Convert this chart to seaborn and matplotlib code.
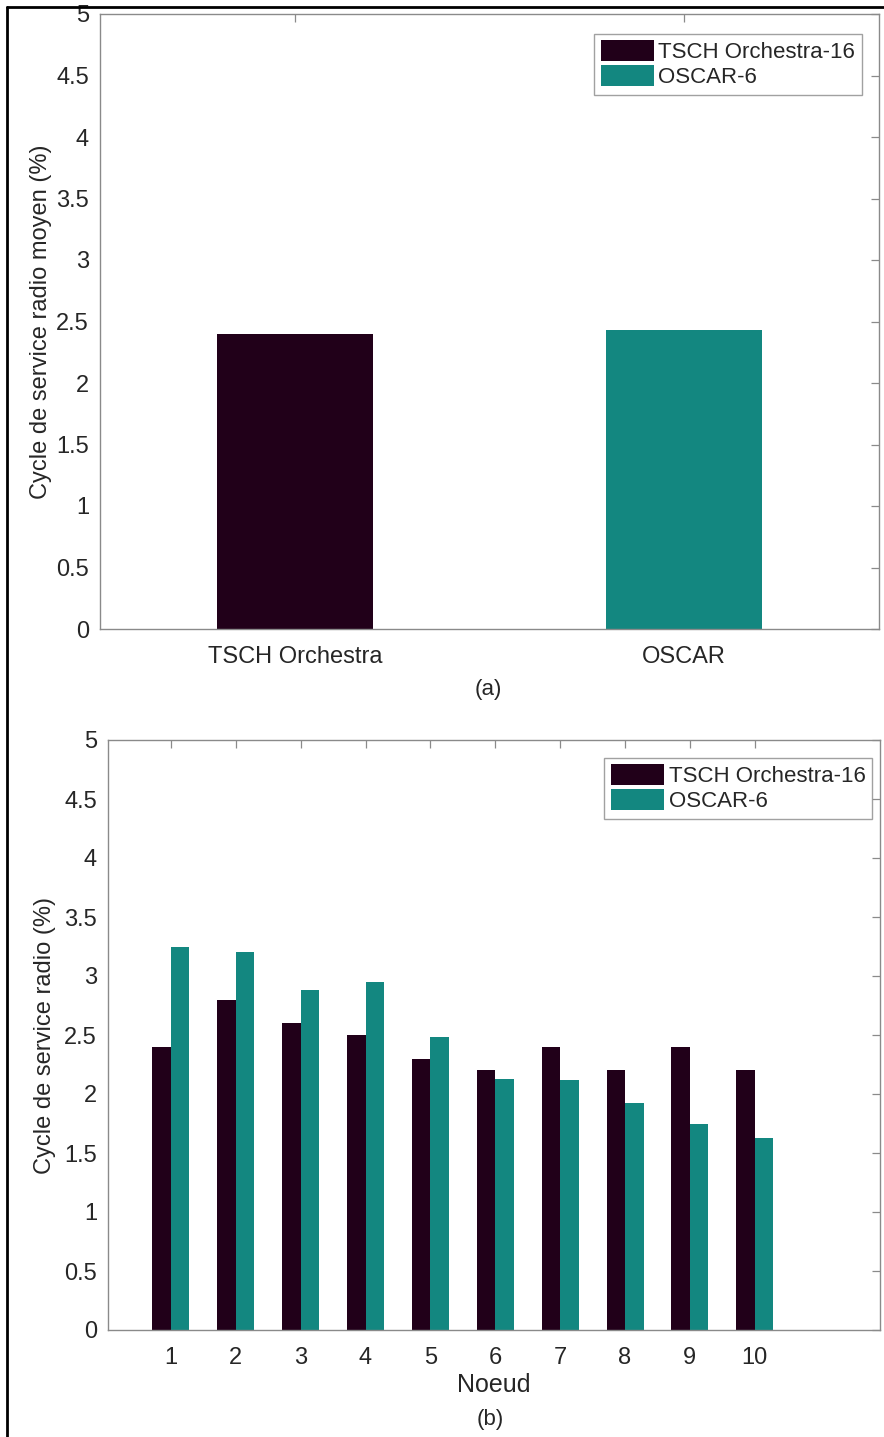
import numpy as np
import pandas as pd
import matplotlib
matplotlib.use("Agg")
import matplotlib.pyplot as plt
from matplotlib.patches import Patch
from matplotlib.lines import Line2D
import seaborn as sns

# Average radio duty cycle per protocol
protocols = ["TSCH Orchestra", "OSCAR"]
avg_duty = [2.40, 2.43]

# Per-node radio duty cycle
nodes = [1, 2, 3, 4, 5, 6, 7, 8, 9, 10]
orchestra_duty = [2.40, 2.80, 2.60, 2.50, 2.30, 2.20, 2.40, 2.20, 2.40, 2.20]
oscar_duty = [3.25, 3.20, 2.88, 2.95, 2.48, 2.13, 2.12, 1.92, 1.75, 1.63]

series_labels = ["TSCH Orchestra-16", "OSCAR-6"]
y_ticks = [0, 0.5, 1, 1.5, 2, 2.5, 3, 3.5, 4, 4.5, 5]
y_ticklabels = ["0", "0.5", "1", "1.5", "2", "2.5", "3", "3.5", "4", "4.5", "5"]

DARK = "#210019"
TEAL = "#138780"
SPINE = "#8a8a8a"
TEXT = "#262626"

sns.set_theme(style="white")
plt.rcParams["font.family"] = ["Liberation Sans", "DejaVu Sans"]

W, H = 884, 1437
fig = plt.figure(figsize=(W / 100, H / 100), dpi=100)


def box(left, top, right, bottom):
    return [left / W, 1 - bottom / H, (right - left) / W, (bottom - top) / H]


def style_axes(ax):
    for s in ax.spines.values():
        s.set_visible(True)
        s.set_color(SPINE)
        s.set_linewidth(1.0)
    ax.tick_params(axis="both", which="both", direction="in", length=6,
                   width=0.9, color=SPINE, labelsize=17, labelcolor=TEXT,
                   top=True, right=True, pad=8)
    ax.tick_params(axis="x", pad=12)
    ax.set_ylim(0, 5)
    ax.set_yticks(y_ticks)
    ax.set_yticklabels(y_ticklabels)
    ax.grid(False)


def add_legend(ax, loc_box):
    handles = [Patch(facecolor=DARK, edgecolor="none"),
               Patch(facecolor=TEAL, edgecolor="none")]
    leg = ax.legend(handles, series_labels, loc="upper right",
                    bbox_to_anchor=loc_box, fontsize=16, frameon=True,
                    fancybox=False, handlelength=2.4, handleheight=1.05,
                    handletextpad=0.2, borderpad=0.3, labelspacing=0.1,
                    borderaxespad=0.0)
    leg.get_frame().set_edgecolor(SPINE)
    leg.get_frame().set_linewidth(1.0)
    for t in leg.get_texts():
        t.set_color(TEXT)


# Panel (a): average duty cycle
ax1 = fig.add_axes(box(100, 14, 879, 629))
df_a = pd.DataFrame({"protocol": protocols, "duty": avg_duty})
sns.barplot(data=df_a, x="protocol", y="duty", hue="protocol",
            palette=[DARK, TEAL], width=0.4, saturation=1, legend=False,
            edgecolor="none", ax=ax1)
style_axes(ax1)
ax1.set_xlim(-0.5, 1.5)
ax1.set_xlabel("")
ax1.set_ylabel("Cycle de service radio moyen (%)", fontsize=17, color=TEXT,
               labelpad=3)
add_legend(ax1, (0.978, 0.968))
fig.text(488 / W, 1 - 690 / H, "(a)", ha="center", va="center",
         fontsize=16, color=TEXT)

# Panel (b): duty cycle per node
ax2 = fig.add_axes(box(108, 740, 880, 1330))
df_b = pd.DataFrame({
    "node": nodes * 2,
    "duty": orchestra_duty + oscar_duty,
    "series": [series_labels[0]] * len(nodes) + [series_labels[1]] * len(nodes),
})
sns.barplot(data=df_b, x="node", y="duty", hue="series", native_scale=True,
            palette=[DARK, TEAL], width=0.57, gap=0, saturation=1,
            edgecolor="none", ax=ax2)
style_axes(ax2)
ax2.set_xlim(0.03, 11.93)
ax2.set_xticks(nodes)
ax2.set_xticklabels([str(n) for n in nodes])
ax2.set_xlabel("Noeud", fontsize=18, color=TEXT, labelpad=3)
ax2.set_ylabel("Cycle de service radio (%)", fontsize=17, color=TEXT,
               labelpad=6)
add_legend(ax2, (0.99, 0.97))
fig.text(490 / W, 1 - 1420 / H, "(b)", ha="center", va="center",
         fontsize=16, color=TEXT)

# Outer frame lines
fig.add_artist(Line2D([7 / W, 1.0], [1 - 7 / H, 1 - 7 / H], color="black",
                      linewidth=2, transform=fig.transFigure))
fig.add_artist(Line2D([7 / W, 7 / W], [1 - 7 / H, 0.0], color="black",
                      linewidth=2, transform=fig.transFigure))

fig.savefig("out.png", dpi=100, facecolor="white")
